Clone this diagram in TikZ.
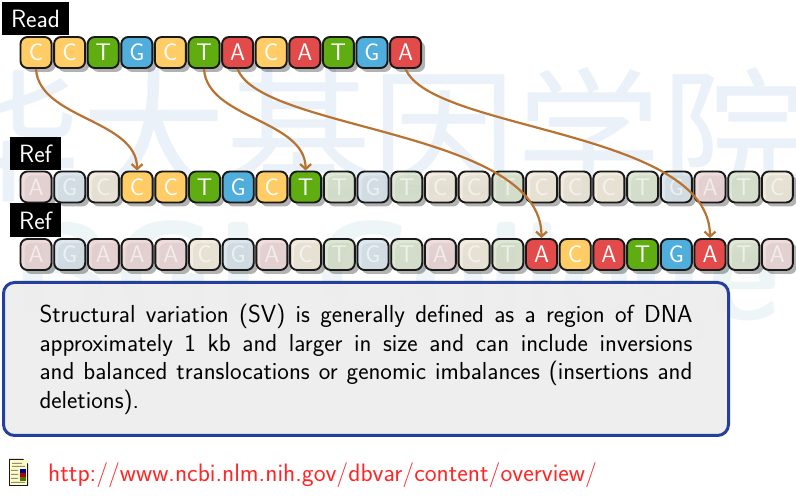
\documentclass[tikz,border=0pt]{standalone}
\usepackage{fontspec}
\newfontfamily\cjk{Noto Sans CJK SC}
\usetikzlibrary{arrows.meta,shadows}

\definecolor{baseA}{HTML}{E34A4A}
\definecolor{baseC}{HTML}{FFCC66}
\definecolor{baseT}{HTML}{5FAD10}
\definecolor{baseG}{HTML}{50AEDC}
\definecolor{mark}{HTML}{EAF1F8}
\definecolor{markb}{HTML}{EEF5F6}
\definecolor{link}{HTML}{B87333}
\definecolor{frame}{HTML}{24409C}

\tikzset{
  cell/.style={rectangle, rounded corners=7pt, minimum width=31pt, minimum height=31pt, inner sep=0pt, line width=1.9pt, draw=black!90, text=white, font=\sffamily\fontsize{24}{24}\selectfont, drop shadow={shadow xshift=4pt, shadow yshift=-4pt, fill=black, opacity=.3}},
  base A/.style={cell, fill=baseA},
  base C/.style={cell, fill=baseC},
  base T/.style={cell, fill=baseT},
  base G/.style={cell, fill=baseG},
  base a/.style={cell, fill=baseA!15!white!94!black, fill opacity=.85, text opacity=.6},
  base c/.style={cell, fill=baseC!15!white!94!black, fill opacity=.85, text opacity=.6},
  base t/.style={cell, fill=baseT!15!white!94!black, fill opacity=.85, text opacity=.6},
  base g/.style={cell, fill=baseG!15!white!94!black, fill opacity=.85, text opacity=.6},
  tag/.style={rectangle, fill=black, text=white, inner sep=0pt, font=\sffamily\fontsize{25}{25}\selectfont},
  linkarrow/.style={link, line width=2.2pt, -{Straight Barb[length=5pt,width=11pt]}},
}

\begin{document}
\begin{tikzpicture}[x=1pt,y=1pt]
\useasboundingbox (0,0) rectangle (796,500);

%watermark
\node (markcn) at (372,365) [text=mark, font=\cjk\fontsize{145}{145}\selectfont] {华大基因学院};
\node (markla) at (10,180) [anchor=base west, inner sep=0pt, text=markb, font=\sffamily\bfseries\fontsize{140}{140}\selectfont] {BGI College};

%strands
\foreach \base [count=\i from 0] in {C,C,T,G,C,T,A,C,A,T,G,A}
  \node (r\i) at (36+33.6*\i,447.5) [base \base] {\MakeUppercase{\base}};
\foreach \base [count=\i from 0] in {a,g,c,C,C,T,G,C,T,t,g,t,c,c,t,c,c,c,t,g,a,t,c}
  \node (p\i) at (36+33.7*\i,313) [base \base] {\MakeUppercase{\base}};
\foreach \base [count=\i from 0] in {a,g,a,a,a,c,g,a,c,t,g,t,a,c,t,A,C,A,T,G,A,t,a}
  \node (q\i) at (36+33.7*\i,245.5) [base \base] {\MakeUppercase{\base}};

%tags
\node (read) at (35.5,481.5) [tag, minimum width=67pt, minimum height=33pt] {Read};
\node (refp) at (35.5,346.5) [tag, minimum width=51pt, minimum height=33pt] {Ref};
\node (refq) at (35.5,279.5) [tag, minimum width=51pt, minimum height=34pt] {Ref};

%lines
\draw [linkarrow] (r0.south) .. controls +(3,-50) and +(0,51) .. (p3.north);
\draw [linkarrow] (r5.south) .. controls +(3,-50) and +(0,51) .. (p8.north);
\draw [linkarrow] (r6.south) .. controls +(23,-62) and +(0,108) .. (q15.north);
\draw [linkarrow] (r11.south) .. controls +(25,-62) and +(0,108) .. (q20.north);

%text box
\node (note) at (366,141) [rectangle, rounded corners=11pt, draw=frame, fill=black!7, fill opacity=.92, draw opacity=1, line width=3pt, minimum width=725pt, minimum height=153pt, inner sep=0pt] {};
\node (notetxt) at (366,140.5) [text width=653pt, align=justify, inner sep=0pt, font=\sffamily\fontsize{24.6}{28.5}\selectfont] {Structural variation (SV) is generally defined as a region of DNA\linebreak approximately 1 kb and larger in size and can include inversions\linebreak and balanced translocations or genomic imbalances (insertions and\linebreak deletions).};

%source
\fill [black!90] (9,14) -- (9,41) -- (23,41) -- (28,36) -- (28,14) -- cycle;
\node (doc) at (18.5,27.5) [rectangle, fill=yellow!25!white, minimum width=17pt, minimum height=25pt, inner sep=0pt] {};
\fill [black!45] (12,36) rectangle (22,37) (12,33) rectangle (25,34) (11,29) rectangle (18,30) (11,25) rectangle (18,26) (11,21) rectangle (18,22) (11,17) rectangle (25,18);
\fill [baseT!70!black] (20,19) rectangle (26,23);
\fill [red!70!black] (20,23) rectangle (26,27);
\fill [blue!60!black] (20,27) rectangle (26,31);
\node (url) at (48,25) [anchor=west, inner sep=0pt, text=red!85!white, font=\sffamily\fontsize{25.2}{25.2}\selectfont] {http://www.ncbi.nlm.nih.gov/dbvar/content/overview/};

\end{tikzpicture}
\end{document}
